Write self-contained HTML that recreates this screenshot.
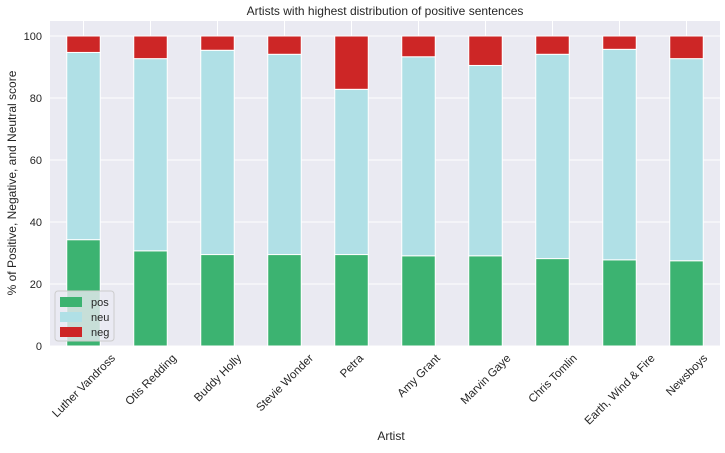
<!DOCTYPE html>
<html><head><meta charset="utf-8"><style>
body{margin:0;background:#fff;font-family:"Liberation Sans","DejaVu Sans",sans-serif;}
svg text{font-family:"Liberation Sans","DejaVu Sans",sans-serif;fill:#262626;}
</style></head><body>
<svg id="chart" width="725" height="448">
<text x="385" y="15" font-size="12" text-anchor="middle">Artists with highest distribution of positive sentences</text>
<rect x="50" y="21" width="670" height="325" fill="#eaeaf2"/>
<g id="grid"></g><g id="bars"></g><g id="xt"></g><g id="yt"></g>
<text x="391" y="440" font-size="12" text-anchor="middle">Artist</text>
<text transform="translate(16,183) rotate(-90)" font-size="12" text-anchor="middle">% of Positive, Negative, and Neutral score</text>
<g>
<rect x="55" y="291" width="59" height="50" rx="3" fill="#eaeaf2" fill-opacity="0.8" stroke="#ccc"/>
<g><rect x="60" y="297" width="22" height="10" fill="#3cb371"/><text x="91" y="306" font-size="11">pos</text></g>
<g><rect x="60" y="312" width="22" height="10" fill="#b0e0e6"/><text x="91" y="321" font-size="11">neu</text></g>
<g><rect x="60" y="327" width="22" height="10" fill="#cd2626"/><text x="91" y="336" font-size="11">neg</text></g>
</g>
</svg>
<script>
const artists=["Luther Vandross","Otis Redding","Buddy Holly","Stevie Wonder","Petra","Amy Grant","Marvin Gaye","Chris Tomlin","Earth, Wind & Fire","Newsboys"];
const pos=[34.3,30.7,29.5,29.5,29.5,29.1,29.1,28.2,27.8,27.5];
const neu=[60.4,62.0,65.9,64.6,53.3,64.2,61.4,65.9,67.9,65.2];
const neg=[5.3,7.3,4.6,5.9,17.2,6.7,9.5,5.9,4.3,7.3];
const yTicks=[0,20,40,60,80,100];
const NS="http://www.w3.org/2000/svg";
const L=50,R=720,T=21,B=346;
const xs=i=>L+(i+0.5)*(R-L)/artists.length;
const ys=v=>B-v*3.1;
const bw=(R-L)/artists.length*0.5;
function mk(t,a,p){const e=document.createElementNS(NS,t);for(const k in a)e.setAttribute(k,a[k]);p.appendChild(e);return e;}
const grid=document.getElementById('grid'),bars=document.getElementById('bars'),xt=document.getElementById('xt'),yt=document.getElementById('yt');
yTicks.forEach(v=>{
 const l=mk('line',{x1:L,x2:R,y1:ys(v),y2:ys(v),stroke:'#fff','stroke-width':1},grid);
 
 
 const t=mk('text',{x:L-8,y:ys(v)+4,'font-size':11,'text-anchor':'end'},yt);t.textContent=v;
 
 
});
artists.forEach((a,i)=>{
 const g=mk('line',{x1:xs(i),x2:xs(i),y1:T,y2:B,stroke:'#fff'},grid);
 
 
 let base=0;
 [[pos,'#3cb371','pos'],[neu,'#b0e0e6','neu'],[neg,'#cd2626','neg']].forEach(([arr,c,n])=>{
  const v=arr[i];
  const r=mk('rect',{x:xs(i)-bw/2,y:ys(base+v),width:bw,height:v*3.1,fill:c,stroke:'#fff','stroke-width':1},bars);
  
  
  base+=v;
 });
 const t=mk('text',{'font-size':11.5,'text-anchor':'middle'},xt);
 t.textContent=a;
 
 
 const len=t.getComputedTextLength();
 const cy=B+10+len*0.3536;
 t.setAttribute('transform',`translate(${xs(i)},${cy}) rotate(-45) translate(0,4)`);
});
</script>
</body></html>
